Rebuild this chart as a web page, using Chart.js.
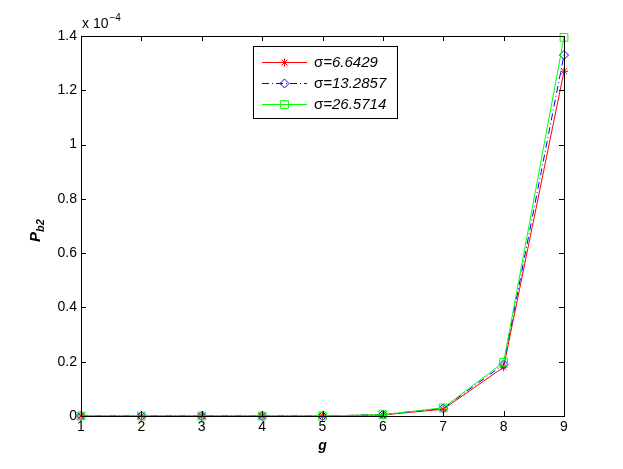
<!DOCTYPE html>
<html>
<head>
<meta charset="utf-8">
<script src="https://cdn.jsdelivr.net/npm/chart.js@4"></script>
<style>
  html, body { margin: 0; padding: 0; background: #fff; }
</style>
</head>
<body>
<canvas id="chart" width="623" height="469"></canvas>
<script>
// values (units of 1e-4)
const gValues = [1, 2, 3, 4, 5, 6, 7, 8, 9];
const pbSigma1 = [0, 0, 0, 0, 0, 0.004, 0.025, 0.18, 1.27];
const pbSigma2 = [0, 0, 0, 0, 0, 0.005, 0.028, 0.19, 1.33];
const pbSigma3 = [0, 0, 0, 0, 0, 0.005, 0.03, 0.198, 1.395];
const seriesNames = ['6.6429', '13.2857', '26.5714'];

const FONT = 'Liberation Sans, Arial, Helvetica, sans-serif';

const toPoints = ys => ys.map((y, i) => ({ x: gValues[i], y }));

// box, inward ticks, titles, exponent and legend in MATLAB style
const matlabAxes = {
  id: 'matlabAxes',
  afterDraw(chart) {
    const { ctx, chartArea: a, scales: { x, y } } = chart;
    ctx.save();
    ctx.strokeStyle = '#000';
    ctx.lineWidth = 1;
    ctx.strokeRect(Math.round(a.left) + 0.5, Math.round(a.top) + 0.5,
      Math.round(a.right - a.left), Math.round(a.bottom - a.top));

    const tl = 5;
    ctx.beginPath();
    x.ticks.forEach(t => {
      const px = Math.round(x.getPixelForValue(t.value)) + 0.5;
      ctx.moveTo(px, a.bottom); ctx.lineTo(px, a.bottom - tl);
      ctx.moveTo(px, a.top); ctx.lineTo(px, a.top + tl);
    });
    y.ticks.forEach(t => {
      const py = Math.round(y.getPixelForValue(t.value)) + 0.5;
      ctx.moveTo(a.left, py); ctx.lineTo(a.left + tl, py);
      ctx.moveTo(a.right, py); ctx.lineTo(a.right - tl, py);
    });
    ctx.stroke();

    // exponent
    ctx.fillStyle = '#000';
    ctx.textAlign = 'left';
    ctx.textBaseline = 'alphabetic';
    ctx.font = '14px ' + FONT;
    ctx.fillText('x 10', a.left + 1, 28);
    const w10 = ctx.measureText('x 10').width;
    ctx.font = '10px ' + FONT;
    ctx.fillText('\u22124', a.left + 1 + w10 + 1, 21);

    // x title
    ctx.font = 'bold italic 14px ' + FONT;
    ctx.textAlign = 'center';
    ctx.fillText('g', (a.left + a.right) / 2, 450);

    // y title P_b2
    ctx.save();
    ctx.translate(40, 242);
    ctx.rotate(-Math.PI / 2);
    ctx.textAlign = 'left';
    ctx.font = 'bold italic 15px ' + FONT;
    ctx.fillText('P', 0, 0);
    const wp = ctx.measureText('P').width;
    ctx.font = 'bold italic 11px ' + FONT;
    ctx.fillText('b2', wp, 4);
    ctx.restore();

    // legend
    const lx = 253, ly = 46, lw = 144, lh = 72;
    ctx.fillStyle = '#fff';
    ctx.fillRect(lx, ly, lw, lh);
    ctx.strokeStyle = '#000';
    ctx.strokeRect(lx + 0.5, ly + 0.5, lw, lh);
    chart.data.datasets.forEach((ds, i) => {
      const cy = 62 + i * 21;
      ctx.save();
      ctx.strokeStyle = ds.borderColor;
      ctx.lineWidth = 1;
      ctx.setLineDash(ds.borderDash || []);
      ctx.beginPath();
      ctx.moveTo(262, cy + 0.5);
      ctx.lineTo(307, cy + 0.5);
      ctx.stroke();
      ctx.setLineDash([]);
      ctx.fillStyle = 'rgba(0,0,0,0)';
      Chart.helpers.drawPoint(ctx, {
        pointStyle: ds.pointStyle, radius: ds.pointRadius,
        rotation: 0, borderWidth: 1
      }, 284.5, cy + 0.5);
      ctx.restore();
      ctx.fillStyle = '#000';
      ctx.textAlign = 'left';
      ctx.font = '15px ' + FONT;
      ctx.fillText('\u03c3', 314, cy + 5);
      const ws = ctx.measureText('\u03c3').width;
      ctx.font = 'italic 15px ' + FONT;
      ctx.fillText('=' + seriesNames[i], 314 + ws, cy + 5);
    });
    ctx.restore();
  }
};

new Chart(document.getElementById('chart'), {
  type: 'line',
  data: {
    datasets: [
      {
        label: '\u03c3=' + seriesNames[0],
        data: toPoints(pbSigma1),
        borderColor: '#ff0000',
        backgroundColor: 'rgba(0,0,0,0)',
        borderWidth: 1,
        pointStyle: 'star',
        pointRadius: 4,
        pointBorderWidth: 1,
        clip: false,
        order: 2
      },
      {
        label: '\u03c3=' + seriesNames[1],
        data: toPoints(pbSigma2),
        borderColor: '#0000ff',
        backgroundColor: 'rgba(0,0,0,0)',
        borderWidth: 1,
        borderDash: [7, 3, 1, 3],
        pointStyle: 'rectRot',
        pointRadius: 4.5,
        pointBorderWidth: 1,
        clip: false,
        order: 1
      },
      {
        label: '\u03c3=' + seriesNames[2],
        data: toPoints(pbSigma3),
        borderColor: '#00ff00',
        backgroundColor: 'rgba(0,0,0,0)',
        borderWidth: 1,
        pointStyle: 'rect',
        pointRadius: 5.5,
        pointBorderWidth: 1,
        clip: false,
        order: 0
      }
    ]
  },
  options: {
    responsive: false,
    animation: false,
    devicePixelRatio: 1,
    layout: { padding: { top: 36, right: 59, left: 0, bottom: 0 } },
    elements: { line: { borderWidth: 1, tension: 0 } },
    plugins: { legend: { display: false }, tooltip: { enabled: false } },
    scales: {
      x: {
        type: 'linear',
        min: 1, max: 9,
        afterFit: s => { s.height = 53; },
        ticks: { stepSize: 1, padding: 3, color: '#000', font: { family: FONT, size: 14 } },
        grid: { display: false, drawTicks: false },
        border: { display: false }
      },
      y: {
        min: 0, max: 1.4,
        afterFit: s => { s.width = 81; },
        ticks: {
          stepSize: 0.2, padding: 4, color: '#000',
          font: { family: FONT, size: 14 },
          callback: v => String(Math.round(v * 10) / 10)
        },
        grid: { display: false, drawTicks: false },
        border: { display: false }
      }
    }
  },
  plugins: [matlabAxes]
});
</script>
</body>
</html>
